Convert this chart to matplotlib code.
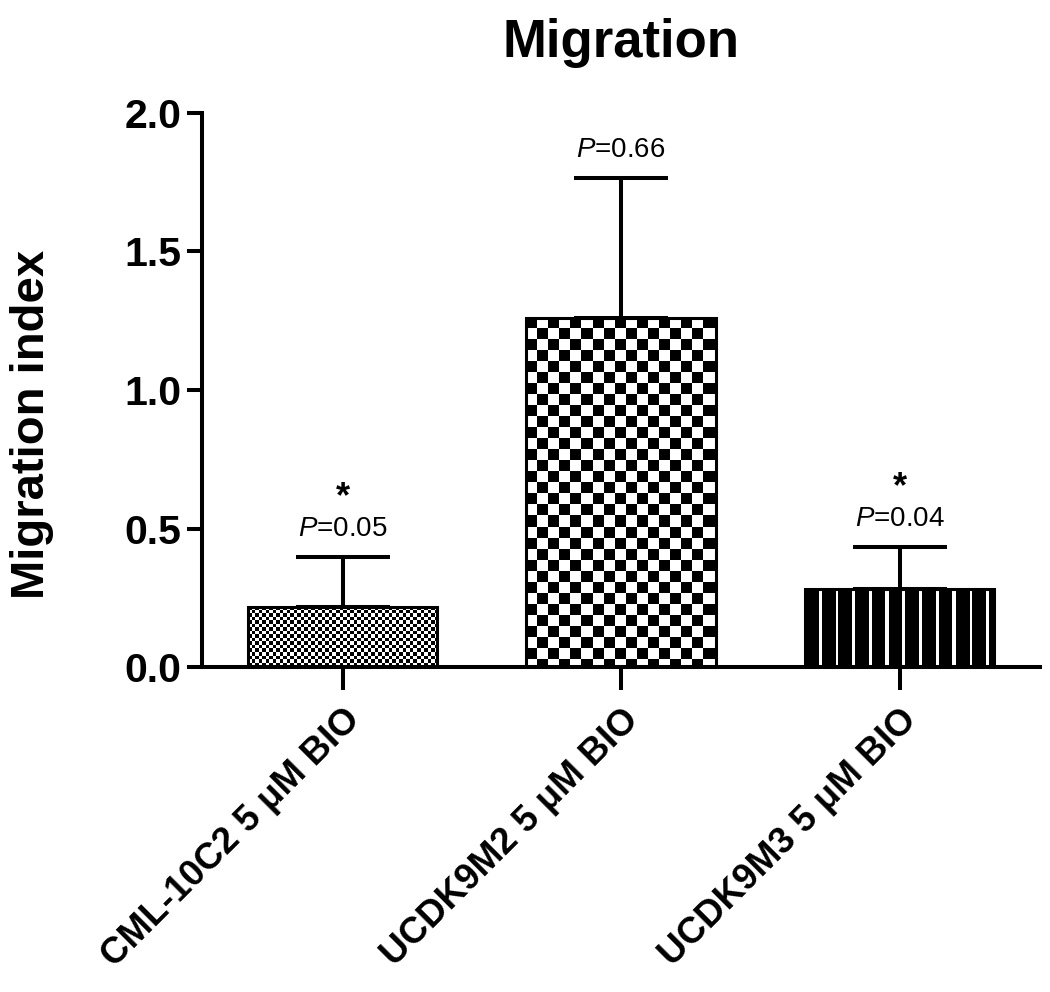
import numpy as np
import matplotlib
matplotlib.use("Agg")
import matplotlib.pyplot as plt
from matplotlib.transforms import ScaledTranslation

plt.rcParams["font.family"] = ["Liberation Sans", "DejaVu Sans"]
plt.rcParams["mathtext.fontset"] = "custom"
plt.rcParams["mathtext.rm"] = "Liberation Sans"
plt.rcParams["mathtext.it"] = "Liberation Sans:italic"

# data
groups = ["CML-10C2 5 \u03bcM BIO", "UCDK9M2 5 \u03bcM BIO", "UCDK9M3 5 \u03bcM BIO"]
means = [0.217, 1.26, 0.282]
errors = [0.18, 0.505, 0.151]
p_values = ["0.05", "0.66", "0.04"]
significant = [True, False, True]
patterns = ["fine_check", "check", "stripes"]

fig = plt.figure(figsize=(10.5, 9.92), dpi=100)
ax = fig.add_axes([0.1924, 0.3276, 0.798, 0.5585])

x = np.arange(len(groups))
bars = ax.bar(x, means, width=0.68, facecolor="none", edgecolor="black",
              linewidth=2.2, zorder=3)


def texture(kind, w, h):
    """Texture bianco/nero per il riempimento di una barra (unita' dati)."""
    if kind == "stripes":
        step = 0.003
        nx = int(round(w / step))
        phase = (np.arange(nx) * step) % 0.06
        row = np.where(phase > 0.048, 1.0, 0.0)
        return np.tile(row, (4, 1)), step
    cell = 0.0126 if kind == "fine_check" else 0.0397
    nx, ny = int(np.ceil(w / cell)), int(np.ceil(h / cell))
    yy, xx = np.indices((ny, nx))
    return ((xx + yy) % 2).astype(float), cell


for bar, kind in zip(bars, patterns):
    x0, y0 = bar.get_x(), bar.get_y()
    w, h = bar.get_width(), bar.get_height()
    tex, cell = texture(kind, w, h)
    if kind == "stripes":
        ext = (x0, x0 + w, y0, y0 + h)
    else:
        ext = (x0, x0 + tex.shape[1] * cell, y0 + h - tex.shape[0] * cell, y0 + h)
    img = ax.imshow(tex, cmap="gray", vmin=0, vmax=1, extent=ext,
                    origin="upper", interpolation="nearest", aspect="auto",
                    zorder=2)
    img.set_clip_path(bar)

ax.errorbar(x, means, yerr=[np.zeros(len(means)), errors], fmt="none",
            ecolor="black", elinewidth=2.9, capsize=34, capthick=2.9, zorder=4)

for xi, m, e, p, sig in zip(x, means, errors, p_values, significant):
    ax.annotate(r"$\it{P}$=" + p, (xi, m + e), xytext=(0, 20),
                textcoords="offset points", ha="center", va="center",
                fontsize=20)
    if sig:
        ax.annotate("*", (xi, m + e), xytext=(0, 43),
                    textcoords="offset points", ha="center", va="center",
                    fontsize=26, fontweight="bold")

ax.set_xlim(-0.5045, 2.504)
ax.set_ylim(0, 2.0)
ax.set_yticks([0.0, 0.5, 1.0, 1.5, 2.0])
ax.set_yticklabels(["0.0", "0.5", "1.0", "1.5", "2.0"], fontsize=29.5,
                   fontweight="bold")
ax.set_xticks(x)
ax.set_xticklabels(groups, rotation=45, ha="right", rotation_mode="anchor",
                   fontsize=26.5, fontweight="bold")
shift = ScaledTranslation(-6 / 100, 6 / 100, fig.dpi_scale_trans)
for lab in ax.get_xticklabels():
    lab.set_transform(lab.get_transform() + shift)

for side in ["top", "right"]:
    ax.spines[side].set_visible(False)
for side in ["left", "bottom"]:
    ax.spines[side].set_linewidth(2.9)
ax.tick_params(axis="y", direction="out", length=10.8, width=2.9, pad=4)
ax.tick_params(axis="x", direction="out", length=16.5, width=2.9, pad=9)

ax.set_ylabel("Migration index", fontsize=34, fontweight="bold")
ax.yaxis.set_label_coords(-0.177, 0.437)
ax.set_title("Migration", fontsize=38, fontweight="bold", pad=40)

fig.savefig("out.png", dpi=100)
